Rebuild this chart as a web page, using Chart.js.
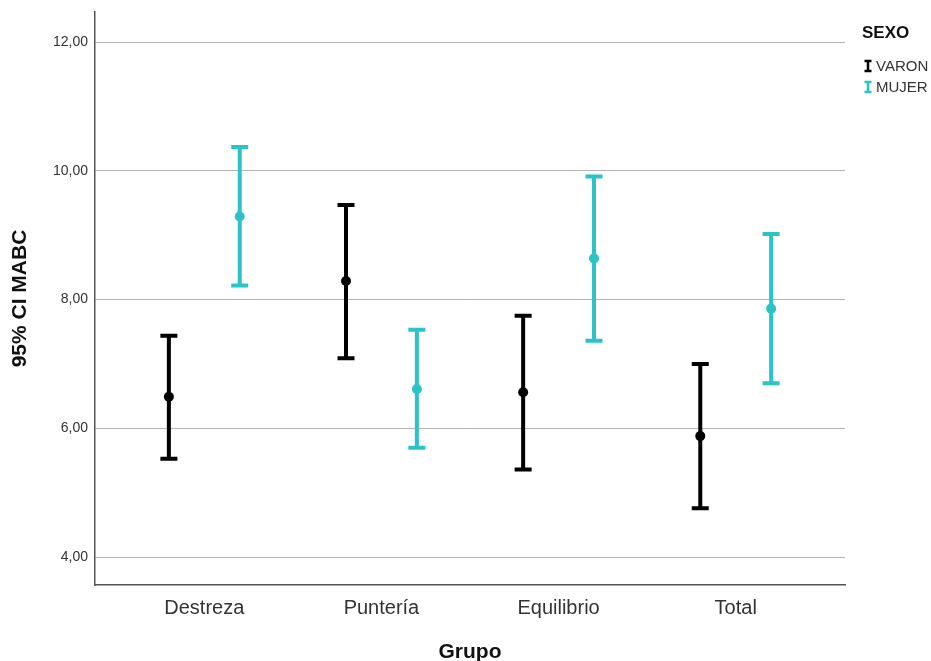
<!DOCTYPE html>
<html>
<head>
<meta charset="utf-8">
<script src="https://cdn.jsdelivr.net/npm/chart.js@4/dist/chart.umd.min.js"></script>
<style>
  html, body { margin: 0; padding: 0; background: #fff; }
  #wrap { width: 931px; height: 661px; position: relative; }
</style>
</head>
<body>
<div id="wrap"><canvas id="c" width="931" height="661"></canvas></div>
<script>
// ---- data ----
const categories = ['Destreza', 'Puntería', 'Equilibrio', 'Total'];
const yTickValues = [4, 6, 8, 10, 12];

const varonMean  = [6.49, 8.29, 6.56, 5.88];
const varonLower = [5.53, 7.09, 5.36, 4.76];
const varonUpper = [7.44, 9.47, 7.75, 7.00];

const mujerMean  = [9.29, 6.61, 8.64, 7.86];
const mujerLower = [8.22, 5.70, 7.36, 6.70];
const mujerUpper = [10.37, 7.53, 9.91, 9.02];

const seriesNames = ['VARON', 'MUJER'];
const legendTitle = 'SEXO';
const xTitle = 'Grupo';
const yTitle = '95% CI MABC';

// ---- styling ----
const COLORS = ['#000000', '#2bc3c7'];
const FONT = 'Arial, "Liberation Sans", sans-serif';
const GROUP_OFFSET = 0.2;

function toPoints(mean, lower, upper, off) {
  return mean.map((m, i) => ({ x: i + 1 + off, y: m, lo: lower[i], hi: upper[i] }));
}

const errorBarPlugin = {
  id: 'errorBars',
  beforeDatasetsDraw(chart) {
    const ctx = chart.ctx;
    const xs = chart.scales.x, ys = chart.scales.y;
    chart.data.datasets.forEach((ds) => {
      ctx.save();
      ctx.strokeStyle = ds.borderColor;
      ctx.lineWidth = 4;
      ctx.lineCap = 'butt';
      ds.data.forEach((p) => {
        const px = xs.getPixelForValue(p.x);
        const yLo = ys.getPixelForValue(p.lo);
        const yHi = ys.getPixelForValue(p.hi);
        const cap = 8.5;
        ctx.beginPath();
        ctx.moveTo(px, yHi); ctx.lineTo(px, yLo);
        ctx.moveTo(px - cap, yHi); ctx.lineTo(px + cap, yHi);
        ctx.moveTo(px - cap, yLo); ctx.lineTo(px + cap, yLo);
        ctx.stroke();
      });
      ctx.restore();
    });
  }
};

const legendPlugin = {
  id: 'customLegend',
  afterDraw(chart) {
    const ctx = chart.ctx;
    ctx.save();
    ctx.fillStyle = '#111';
    ctx.font = 'bold 17px ' + FONT;
    ctx.textAlign = 'left';
    ctx.textBaseline = 'middle';
    ctx.fillText(legendTitle, 862, 33);
    ctx.font = '15px ' + FONT;
    chart.data.datasets.forEach((ds, i) => {
      const y = 66 + i * 21;
      const x = 868;
      ctx.strokeStyle = ds.borderColor;
      ctx.lineWidth = 2.5;
      ctx.beginPath();
      ctx.moveTo(x, y - 5); ctx.lineTo(x, y + 5);
      ctx.moveTo(x - 3.5, y - 5); ctx.lineTo(x + 3.5, y - 5);
      ctx.moveTo(x - 3.5, y + 5); ctx.lineTo(x + 3.5, y + 5);
      ctx.stroke();
      ctx.fillStyle = '#333';
      ctx.fillText(ds.label, 876, y + 1);
    });
    ctx.restore();
  }
};

new Chart(document.getElementById('c'), {
  type: 'scatter',
  data: {
    datasets: [
      { label: seriesNames[0], data: toPoints(varonMean, varonLower, varonUpper, -GROUP_OFFSET),
        backgroundColor: COLORS[0], borderColor: COLORS[0], pointRadius: 5, pointBorderWidth: 0 },
      { label: seriesNames[1], data: toPoints(mujerMean, mujerLower, mujerUpper, GROUP_OFFSET),
        backgroundColor: COLORS[1], borderColor: COLORS[1], pointRadius: 5, pointBorderWidth: 0 }
    ]
  },
  options: {
    responsive: false,
    animation: false,
    events: [],
    layout: { padding: { top: 12, right: 86, left: 0, bottom: 0 } },
    plugins: { legend: { display: false }, tooltip: { enabled: false } },
    scales: {
      x: {
        type: 'linear',
        min: 0.383, max: 4.617,
        afterBuildTicks: (s) => { s.ticks = categories.map((c, i) => ({ value: i + 1 })); },
        afterFit: (s) => { s.height = 76; s.paddingLeft = 0; s.paddingRight = 0; },
        ticks: {
          callback: (v) => categories[Math.round(v) - 1] || '',
          font: { size: 20, family: FONT }, color: '#333', padding: 11, maxRotation: 0, autoSkip: false
        },
        grid: { display: false, drawTicks: false },
        border: { display: true, color: '#555', width: 1.5 },
        title: { display: true, text: xTitle, color: '#111', font: { size: 21, weight: 'bold', family: FONT, lineHeight: 1 }, padding: { top: 0, bottom: -2 } }
      },
      y: {
        type: 'linear',
        min: 3.568, max: 12.466,
        afterBuildTicks: (s) => { s.ticks = yTickValues.map((v) => ({ value: v })); },
        afterFit: (s) => { s.width = 95; s.paddingTop = 0; s.paddingBottom = 0; },
        ticks: {
          callback: (v) => v.toFixed(2).replace('.', ','),
          font: { size: 14, family: FONT }, color: '#333', padding: 7
        },
        grid: { color: '#b4b4b4', lineWidth: 1, drawTicks: false },
        border: { display: true, color: '#555', width: 1.5 },
        title: { display: true, text: yTitle, color: '#111', font: { size: 21, weight: 'bold', family: FONT }, padding: { top: 8, bottom: 0 } }
      }
    }
  },
  plugins: [errorBarPlugin, legendPlugin]
});
</script>
</body>
</html>
